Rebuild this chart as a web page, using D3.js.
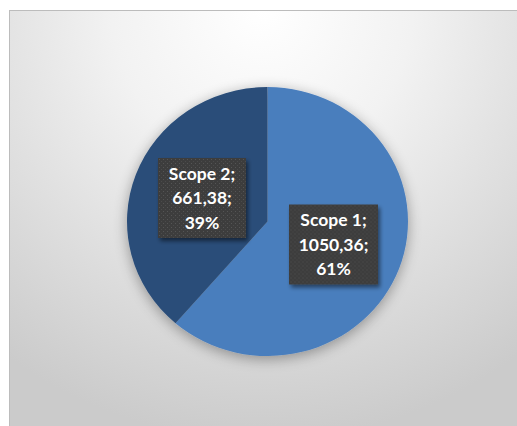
<!DOCTYPE html>
<html>
<head>
<meta charset="utf-8">
<script src="https://cdn.jsdelivr.net/npm/d3@7"></script>
<style>
  html, body { margin: 0; padding: 0; background: #fff; }
  svg { display: block; }
</style>
</head>
<body>
<svg id="chart"></svg>
<script>
// chart data
const categories = ['Scope 1', 'Scope 2'];
const values = [1050.36, 661.38];
const valueLabels = ['1050,36', '661,38'];
const colors = ['#4a7ebd', '#2c4e79'];

const width = 517;
const height = 426;

const svg = d3.select('#chart')
  .attr('width', width)
  .attr('height', height);

const defs = svg.append('defs');

// background gradient
const bg = defs.append('radialGradient')
  .attr('id', 'bg')
  .attr('gradientUnits', 'userSpaceOnUse')
  .attr('cx', 262).attr('cy', 10).attr('r', 430)
  .attr('fx', 262).attr('fy', 10);
bg.append('stop').attr('offset', '0%').attr('stop-color', '#ffffff');
bg.append('stop').attr('offset', '35%').attr('stop-color', '#f2f2f2');
bg.append('stop').attr('offset', '100%').attr('stop-color', '#cbcbcb');

// pie glow
const glow = defs.append('filter').attr('id', 'glow')
  .attr('x', '-20%').attr('y', '-20%').attr('width', '140%').attr('height', '140%');
glow.append('feGaussianBlur').attr('in', 'SourceAlpha').attr('stdDeviation', 7).attr('result', 'b');
glow.append('feOffset').attr('in', 'b').attr('dx', 0).attr('dy', 3).attr('result', 'o');
glow.append('feComponentTransfer').attr('in', 'o').attr('result', 's')
  .append('feFuncA').attr('type', 'linear').attr('slope', 0.35);
const gm = glow.append('feMerge');
gm.append('feMergeNode').attr('in', 's');
gm.append('feMergeNode').attr('in', 'SourceGraphic');

// label box shadow
const sh = defs.append('filter').attr('id', 'boxshadow')
  .attr('x', '-20%').attr('y', '-20%').attr('width', '150%').attr('height', '150%');
sh.append('feGaussianBlur').attr('in', 'SourceAlpha').attr('stdDeviation', 2).attr('result', 'b');
sh.append('feOffset').attr('in', 'b').attr('dx', 2).attr('dy', 3).attr('result', 'o');
sh.append('feComponentTransfer').attr('in', 'o').attr('result', 's')
  .append('feFuncA').attr('type', 'linear').attr('slope', 0.5);
const sm = sh.append('feMerge');
sm.append('feMergeNode').attr('in', 's');
sm.append('feMergeNode').attr('in', 'SourceGraphic');

// dotted texture for label boxes
const pat = defs.append('pattern')
  .attr('id', 'dots')
  .attr('width', 4).attr('height', 4)
  .attr('patternUnits', 'userSpaceOnUse');
pat.append('rect').attr('width', 4).attr('height', 4).attr('fill', '#3d3d3d');
pat.append('rect').attr('x', 1).attr('y', 1).attr('width', 1).attr('height', 1).attr('fill', '#555');
pat.append('rect').attr('x', 3).attr('y', 3).attr('width', 1).attr('height', 1).attr('fill', '#4c4c4c');

// chart area
svg.append('rect')
  .attr('x', 9.5).attr('y', 10.5)
  .attr('width', 508).attr('height', 420)
  .attr('fill', 'url(#bg)')
  .attr('stroke', '#bcbcbc')
  .attr('stroke-width', 1);

// pie (slightly wider than tall, as in the picture)
const cx = 267.5, cy = 221.5, rx = 140.5, ry = 134.5;

const pie = d3.pie().sort(null)(values);
const arc = d3.arc().innerRadius(0).outerRadius(rx);

const g = svg.append('g')
  .attr('transform', `translate(${cx},${cy}) scale(1,${ry / rx})`)
  .attr('filter', 'url(#glow)');

g.selectAll('path')
  .data(pie)
  .join('path')
    .attr('d', arc)
    .attr('fill', (d, i) => colors[i]);

// data labels
const total = d3.sum(values);
const boxW = [89, 88];
const boxH = 80;
const boxPos = [[333.5, 244.5], [202, 198]]; // label centres

const labels = svg.append('g');
pie.forEach((d, i) => {
  const lines = [categories[i] + ';', valueLabels[i] + ';', Math.round(values[i] / total * 100) + '%'];
  const [lx, ly] = boxPos[i];
  const lg = labels.append('g').attr('transform', `translate(${lx},${ly})`);
  lg.append('rect')
    .attr('x', -boxW[i] / 2).attr('y', -boxH / 2)
    .attr('width', boxW[i]).attr('height', boxH)
    .attr('fill', 'url(#dots)')
    .attr('filter', 'url(#boxshadow)');
  lg.selectAll('text')
    .data(lines)
    .join('text')
      .attr('x', 0)
      .attr('y', (t, j) => (j - 1) * 24.5)
      .attr('dy', '0.36em')
      .attr('text-anchor', 'middle')
      .attr('fill', '#ffffff')
      .attr('font-family', 'Lato, "Open Sans", sans-serif')
      .attr('font-weight', 'bold')
      .attr('font-size', '17.5px')
      .text(t => t);
});
</script>
</body>
</html>
